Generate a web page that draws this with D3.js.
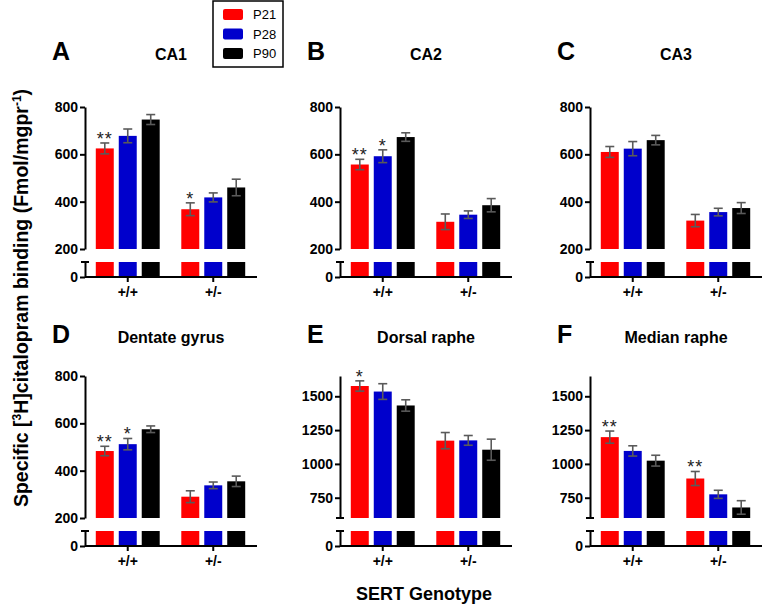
<!DOCTYPE html>
<html><head><meta charset="utf-8">
<script src="https://cdn.jsdelivr.net/npm/d3@7"></script>
<style>
body{margin:0;background:#fff;}
svg{display:block;font-family:"Liberation Sans",Arial,sans-serif;}
</style></head>
<body>
<svg id="chart" width="765" height="606"></svg>
<script>
// ---------- data ----------
const genotypes = ["+/+", "+/-"];
const ages = ["P21", "P28", "P90"];
const ageColors = ["#ff0000", "#0000cc", "#000000"];
const regions = ["CA1", "CA2", "CA3", "Dentate gyrus", "Dorsal raphe", "Median raphe"];
const letters = ["A", "B", "C", "D", "E", "F"];

// means [genotype][age], SEM, significance marks
const meanCA1 = [[625, 678, 747], [368, 418, 460]];
const semCA1  = [[23, 29, 21], [27, 19, 35]];
const starCA1 = [["**", "", ""], ["*", "", ""]];
const meanCA2 = [[557, 592, 673], [315, 345, 385]];
const semCA2  = [[22, 27, 18], [33, 16, 28]];
const starCA2 = [["**", "*", ""], ["", "", ""]];
const meanCA3 = [[610, 624, 660], [320, 356, 373]];
const semCA3  = [[23, 30, 20], [26, 16, 23]];
const starCA3 = [["", "", ""], ["", "", ""]];
const meanDG  = [[483, 512, 575], [290, 338, 355]];
const semDG   = [[20, 24, 14], [25, 14, 22]];
const starDG  = [["**", "*", ""], ["", "", ""]];
const meanDR  = [[1576, 1535, 1432], [1172, 1174, 1105]];
const semDR   = [[38, 58, 42], [60, 36, 78]];
const starDR  = [["*", "", ""], ["", "", ""]];
const meanMR  = [[1198, 1096, 1024], [892, 775, 678]];
const semMR   = [[45, 38, 40], [52, 30, 50]];
const starMR  = [["**", "", ""], ["**", "", ""]];

const hippoDomain = [200, 800];
const hippoTicks = [200, 400, 600, 800];
const rapheDomain = [600, 1650];
const rapheTicks = [750, 1000, 1250, 1500];
const lowerDomain = [0, 100];
const lowerTicks = [0];

const panels = [
  {mean: meanCA1, sem: semCA1, star: starCA1, dom: hippoDomain, ticks: hippoTicks},
  {mean: meanCA2, sem: semCA2, star: starCA2, dom: hippoDomain, ticks: hippoTicks},
  {mean: meanCA3, sem: semCA3, star: starCA3, dom: hippoDomain, ticks: hippoTicks},
  {mean: meanDG,  sem: semDG,  star: starDG,  dom: hippoDomain, ticks: hippoTicks},
  {mean: meanDR,  sem: semDR,  star: starDR,  dom: rapheDomain, ticks: rapheTicks},
  {mean: meanMR,  sem: semMR,  star: starMR,  dom: rapheDomain, ticks: rapheTicks}
];

// ---------- layout ----------
const svg = d3.select("#chart");
const colX = [85, 340, 590];
const rowY = [0, 269];
const titleY = [60, 343];
const upTop = 107, upBot = 249, lowTop = 262, zeroY = 277;
const plotW = 172;

const x0 = d3.scaleBand().domain(genotypes).range([0, 171]).padding(0);
const x1 = d3.scaleBand().domain(ages).range([0, x0.bandwidth()])
  .paddingInner(5 / 23).paddingOuter(0.47);

panels.forEach((p, i) => {
  const row = Math.floor(i / 3);
  const ox = colX[i % 3], oy = rowY[row];
  const g = svg.append("g").attr("transform", `translate(${ox},${oy})`);
  const yU = d3.scaleLinear().domain(p.dom).range([upBot, upTop]);
  const yL = d3.scaleLinear().domain(lowerDomain).range([zeroY, lowTop]);

  // letter and title
  svg.append("text").attr("x", ox - 33).attr("y", titleY[row]).attr("font-size", 25)
    .attr("font-weight", "bold").text(letters[i]);
  svg.append("text").attr("x", ox + 86).attr("y", titleY[row]).attr("font-size", 16)
    .attr("font-weight", "bold").attr("text-anchor", "middle").text(regions[i]);

  const data = [];
  genotypes.forEach((gt, gi) => ages.forEach((a, ai) => data.push({
    gt, a, ai, v: p.mean[gi][ai], e: p.sem[gi][ai], s: p.star[gi][ai]
  })));

  const bx = d => x0(d.gt) + x1(d.a);
  // upper bars
  g.selectAll(".ub").data(data).join("rect")
    .attr("x", bx).attr("width", x1.bandwidth())
    .attr("y", d => yU(d.v)).attr("height", d => upBot - yU(d.v))
    .attr("fill", d => ageColors[d.ai]);
  // lower bars
  g.selectAll(".lb").data(data).join("rect")
    .attr("x", bx).attr("width", x1.bandwidth())
    .attr("y", yL(lowerDomain[1])).attr("height", zeroY - yL(lowerDomain[1]))
    .attr("fill", d => ageColors[d.ai]);

  // error bars
  const eb = g.selectAll(".eb").data(data).join("g")
    .attr("stroke", "#5a5a5a").attr("stroke-width", 1.6).attr("fill", "none");
  const cx = d => bx(d) + x1.bandwidth() / 2;
  eb.append("line").attr("x1", cx).attr("x2", cx)
    .attr("y1", d => yU(d.v + d.e)).attr("y2", d => yU(d.v - d.e));
  eb.append("line").attr("x1", d => cx(d) - 4.5).attr("x2", d => cx(d) + 4.5)
    .attr("y1", d => yU(d.v + d.e)).attr("y2", d => yU(d.v + d.e));
  eb.append("line").attr("x1", d => cx(d) - 4.5).attr("x2", d => cx(d) + 4.5)
    .attr("y1", d => yU(d.v - d.e)).attr("y2", d => yU(d.v - d.e));

  // significance
  g.selectAll(".st").data(data.filter(d => d.s)).join("text")
    .attr("x", cx).attr("y", d => yU(d.v + d.e) + 2)
    .attr("text-anchor", "middle").attr("font-size", 18).attr("fill", "#222")
    .attr("letter-spacing", 1).text(d => d.s);

  // axes
  const styleAxis = sel => {
    sel.selectAll("path,line").attr("stroke", "#000").attr("stroke-width", 2);
    sel.selectAll("text").attr("font-size", 14).attr("font-weight", "bold")
      .attr("fill", "#000").attr("font-family", "Liberation Sans, Arial, sans-serif");
  };
  g.append("g").call(d3.axisLeft(yU).tickValues(p.ticks).tickFormat(d3.format("d"))
    .tickSize(5).tickSizeOuter(0).tickPadding(2)).call(styleAxis);
  g.append("g").call(d3.axisLeft(yL).tickValues(lowerTicks).tickFormat(d3.format("d"))
    .tickSize(5).tickSizeOuter(0).tickPadding(2)).call(styleAxis);
  // break caps
  if (p.dom[0] !== p.ticks[0]) {
    g.append("line").attr("x1", -4).attr("x2", 4).attr("y1", upBot).attr("y2", upBot)
      .attr("stroke", "#000").attr("stroke-width", 2);
  }
  g.append("line").attr("x1", -4).attr("x2", 4)
    .attr("y1", yL(lowerDomain[1])).attr("y2", yL(lowerDomain[1]))
    .attr("stroke", "#000").attr("stroke-width", 2);

  // x axis
  const xa = g.append("g").attr("transform", `translate(0,${zeroY})`)
    .call(d3.axisBottom(x0).tickSize(5).tickSizeOuter(0).tickPadding(5));
  xa.select(".domain").attr("d", `M0,0H${plotW}`);
  styleAxis(xa);
});

// legend
const lg = svg.append("g");
lg.append("rect").attr("x", 213).attr("y", 1).attr("width", 70).attr("height", 66)
  .attr("fill", "#fff").attr("stroke", "#000").attr("stroke-width", 1.5);
ages.forEach((a, i) => {
  lg.append("rect").attr("x", 223).attr("y", 9 + i * 19.5).attr("width", 20).attr("height", 11)
    .attr("rx", 2).attr("fill", ageColors[i]);
  lg.append("text").attr("x", 253).attr("y", 19 + i * 19.5).attr("font-size", 13)
    .attr("fill", "#000").text(a);
});

// axis titles
const yl = svg.append("text").attr("transform", "translate(28,298) rotate(-90)")
  .attr("text-anchor", "middle").attr("font-size", 19.5).attr("font-weight", "bold");
yl.append("tspan").text("Specific [");
yl.append("tspan").attr("baseline-shift", "super").attr("font-size", 12).text("3");
yl.append("tspan").text("H]citalopram binding (Fmol/mgpr");
yl.append("tspan").attr("baseline-shift", "super").attr("font-size", 12).text("-1");
yl.append("tspan").text(")");

svg.append("text").attr("x", 424).attr("y", 600).attr("text-anchor", "middle")
  .attr("font-size", 18).attr("font-weight", "bold").text("SERT Genotype");
</script>
</body></html>
